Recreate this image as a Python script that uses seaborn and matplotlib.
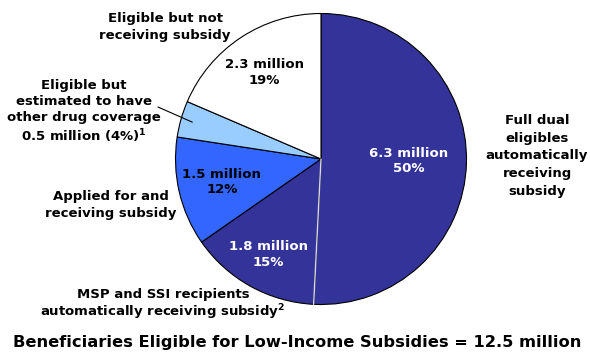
import numpy as np
import matplotlib
matplotlib.use("Agg")
import matplotlib.pyplot as plt
import seaborn as sns

# ---- data ----
categories = ["Full dual eligibles automatically receiving subsidy",
              "MSP and SSI recipients automatically receiving subsidy",
              "Applied for and receiving subsidy",
              "Eligible but estimated to have other drug coverage",
              "Eligible but not receiving subsidy"]
values_millions = [6.3, 1.8, 1.5, 0.5, 2.3]
percent_labels = ["50%", "15%", "12%", "4%", "19%"]
value_labels = ["6.3 million", "1.8 million", "1.5 million", "0.5 million", "2.3 million"]
title_text = "Beneficiaries Eligible for Low-Income Subsidies = 12.5 million"

colors = ["#333399", "#333399", "#3366FF", "#99CCFF", "#FFFFFF"]

sns.set_theme(style="white")
plt.rcParams['font.family'] = ['DejaVu Sans']

W, H = 590, 356
fig = plt.figure(figsize=(W / 100, H / 100), dpi=100)
cx, cy, R = 321.0, 159.0, 145.5
ax = fig.add_axes([(cx - R) / W, (H - cy - R) / H, 2 * R / W, 2 * R / H])

wedges, _ = ax.pie(values_millions, colors=colors, startangle=90, counterclock=False,
                   wedgeprops=dict(edgecolor="black", linewidth=0.8), radius=1.0)
ax.set_xlim(-1, 1)
ax.set_ylim(-1, 1)
ax.set_axis_off()

# light boundary between the two same-coloured slices
b = np.deg2rad(wedges[0].theta1)
ax.plot([0, np.cos(b)], [0, np.sin(b)], color="#d8d8e8", lw=1.0, zorder=5)

fs_in = 9.5
radii = [0.60, 0.75, 0.70, None, 0.71]
txt_cols = ["white", "white", "black", None, "black"]
for i, w in enumerate(wedges):
    if radii[i] is None:
        continue
    mid = np.deg2rad((w.theta1 + w.theta2) / 2)
    ax.text(radii[i] * np.cos(mid), radii[i] * np.sin(mid),
            f"{value_labels[i]}\n{percent_labels[i]}",
            ha="center", va="center", color=txt_cols[i], fontsize=fs_in,
            fontweight="bold", linespacing=1.25, zorder=6)

def ftext(x, y, s, ls=1.35, **kw):
    fig.text(x / W, 1 - y / H, s, ha="center", va="center", fontsize=9.5,
             fontweight="bold", color="black", linespacing=ls, **kw)

ftext(165, 27, "Eligible but not\nreceiving subsidy")
ftext(84, 112, "Eligible but\nestimated to have\nother drug coverage\n"
      f"{value_labels[3]} ({percent_labels[3]})$^{{\\mathbf{{1}}}}$", ls=1.3)
ftext(111, 205, "Applied for and\nreceiving subsidy")
ftext(163, 305, "MSP and SSI recipients\nautomatically receiving subsidy$^{\\mathbf{2}}$", ls=1.15)
ftext(537, 156, "Full dual\neligibles\nautomatically\nreceiving\nsubsidy", ls=1.45)
fig.text(297 / W, 1 - 343 / H, title_text, ha="center", va="center",
         fontsize=11.7, fontweight="bold", color="black")

# leader line for small slice
w3 = wedges[3]
m3 = np.deg2rad((w3.theta1 + w3.theta2) / 2)
ax.plot([(158 - cx) / R, 0.92 * np.cos(m3)], [(cy - 107) / R, 0.92 * np.sin(m3)],
        color="black", lw=0.8, clip_on=False, zorder=6)

fig.savefig("out.png", dpi=100, facecolor="white")
